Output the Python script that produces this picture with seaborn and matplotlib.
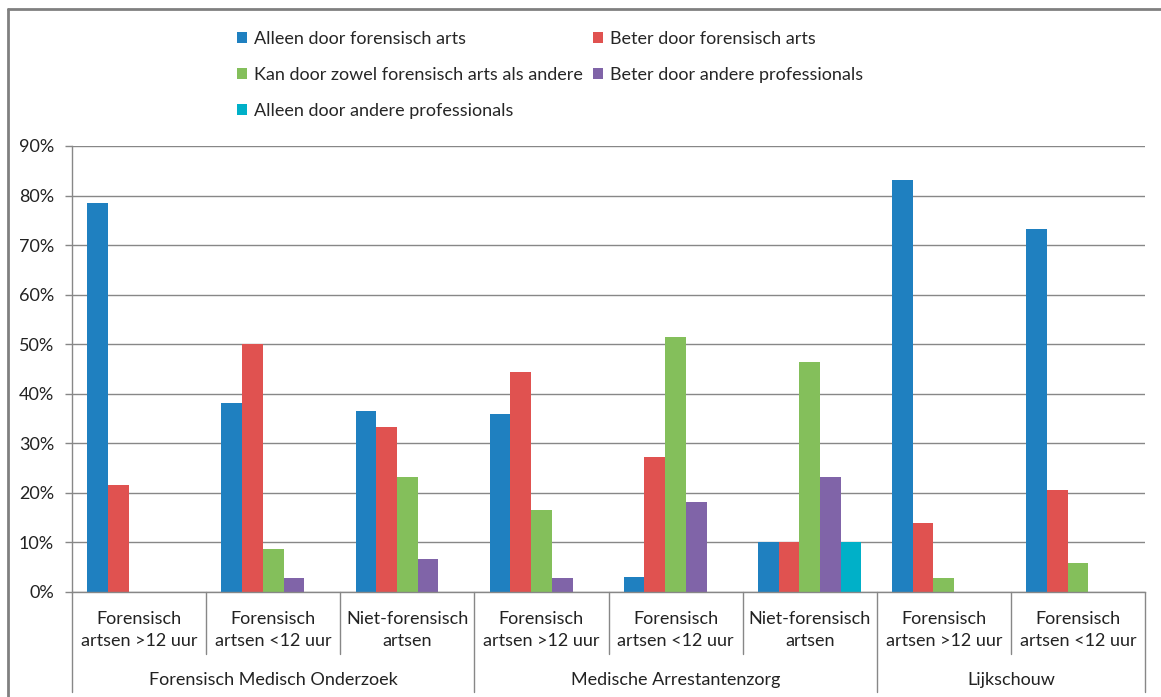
import matplotlib
matplotlib.use("Agg")
import matplotlib.pyplot as plt
import matplotlib.transforms as mtransforms
from matplotlib.lines import Line2D
import pandas as pd
import seaborn as sns

# data (percentages)
groups = ["Forensisch Medisch Onderzoek", "Medische Arrestantenzorg", "Lijkschouw"]
group_sizes = [3, 3, 2]
subcats = ["Forensisch\nartsen >12 uur", "Forensisch\nartsen <12 uur", "Niet-forensisch\nartsen",
           "Forensisch\nartsen >12 uur", "Forensisch\nartsen <12 uur", "Niet-forensisch\nartsen",
           "Forensisch\nartsen >12 uur", "Forensisch\nartsen <12 uur"]
series = ["Alleen door forensisch arts", "Beter door forensisch arts",
          "Kan door zowel forensisch arts als andere", "Beter door andere professionals",
          "Alleen door andere professionals"]
alleen_fa = [78.4, 38.1, 36.5, 36.0, 3.1, 10.0, 83.2, 73.3]
beter_fa = [21.5, 50.0, 33.3, 44.4, 27.2, 10.0, 13.9, 20.6]
zowel = [0, 8.7, 23.2, 16.6, 51.4, 46.5, 2.9, 5.9]
beter_ander = [0, 2.8, 6.6, 2.8, 18.1, 23.2, 0, 0]
alleen_ander = [0, 0, 0, 0, 0, 10.0, 0, 0]
colors = ["#1F80C0", "#E05250", "#84BF5B", "#8064A8", "#00B0C8"]

cat_ids = [f"c{i}" for i in range(len(subcats))]
rows = []
for s, vals in zip(series, [alleen_fa, beter_fa, zowel, beter_ander, alleen_ander]):
    for c, v in zip(cat_ids, vals):
        rows.append({"cat": c, "serie": s, "value": v})
df = pd.DataFrame(rows)

sns.set_style("white")
plt.rcParams['font.family'] = ['Lato', 'DejaVu Sans']
FS = 13
W, H = 1161, 697

fig = plt.figure(figsize=(W / 100, H / 100), dpi=100)
ax = fig.add_axes([72 / W, 1 - 592 / H, (1145 - 72) / W, (592 - 146) / H])

sns.barplot(data=df, x="cat", y="value", hue="serie", order=cat_ids, hue_order=series,
            palette=colors, width=0.772, linewidth=0, saturation=1, ax=ax)

handles = ax.legend_.legend_handles
labels = [t.get_text() for t in ax.legend_.texts]
ax.legend_.remove()

grey = "#878787"
ax.set_ylim(0, 90)
ax.set_xlim(-0.5, len(subcats) - 0.5)
ax.set_yticks(range(0, 91, 10))
ax.set_yticklabels([f"{v}%" for v in range(0, 91, 10)], fontsize=FS, color="#222222")
ax.set_xticks([])
ax.set_xlabel("")
ax.set_ylabel("")
ax.yaxis.grid(True, color=grey, lw=1)
ax.set_axisbelow(True)
ax.tick_params(axis="y", length=5, width=1, color=grey, pad=8, left=True)
for side in ["top", "right"]:
    ax.spines[side].set_visible(False)
for side in ["left", "bottom"]:
    ax.spines[side].set_color(grey)
    ax.spines[side].set_linewidth(1)

# hierarchical category axis
trans = mtransforms.blended_transform_factory(ax.transData, ax.transAxes)
ax_h = 592 - 146
sub_low = -(654 - 592) / ax_h
grp_low = -(692 - 592) / ax_h
bounds = [-0.5]
for n in group_sizes:
    bounds.append(bounds[-1] + n)
for i in range(len(subcats) + 1):
    x = i - 0.5
    low = grp_low if x in bounds else sub_low
    ax.add_line(Line2D([x, x], [0, low], transform=trans, color=grey, lw=1, clip_on=False))
for i, lab in enumerate(subcats):
    ax.text(i, -(630 - 592) / ax_h, lab, transform=trans, ha="center", va="center",
            fontsize=FS, linespacing=1.4, color="#222222")
for g, lab in enumerate(groups):
    mid = (bounds[g] + bounds[g + 1]) / 2
    ax.text(mid, -(680 - 592) / ax_h, lab, transform=trans, ha="center", va="center",
            fontsize=FS, color="#222222")

# legend, filled row by row like the original
order = [0, 2, 4, 1, 3]
fig.legend([handles[i] for i in order], [labels[i] for i in order], ncol=2,
           loc="upper left", bbox_to_anchor=(237 / W, 1 - 31 / H), frameon=False,
           fontsize=FS, handlelength=0.55, handleheight=0.55, handletextpad=0.4,
           columnspacing=0.55, labelspacing=1.1, borderpad=0, borderaxespad=0)

# outer chart border
fig.add_artist(Line2D([8 / W, 8 / W], [0, 1 - 9 / H], transform=fig.transFigure,
                      color="#808080", lw=2))
fig.add_artist(Line2D([8 / W, 1], [1 - 9 / H, 1 - 9 / H], transform=fig.transFigure,
                      color="#808080", lw=2))

fig.savefig("out.png", dpi=100)
